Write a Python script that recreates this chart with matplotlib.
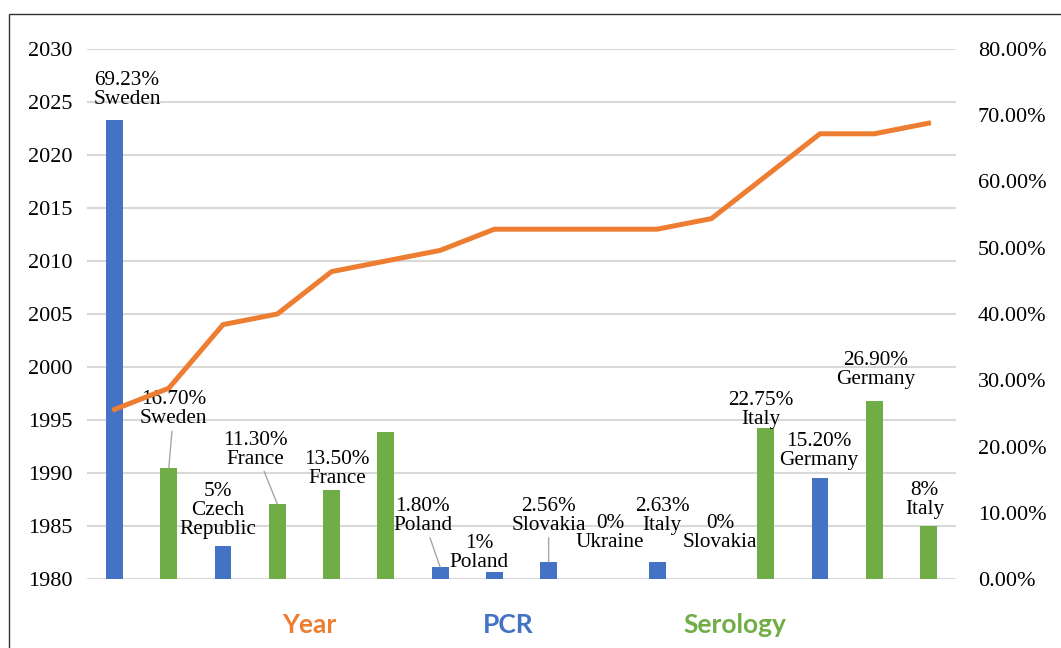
import matplotlib
matplotlib.use("Agg")
import matplotlib.pyplot as plt
from matplotlib.patches import Rectangle
from matplotlib.ticker import FuncFormatter

# --- data ---
YEARS = [1996, 1998, 2004, 2005, 2009, 2010, 2011, 2013,
         2013, 2013, 2013, 2014, 2018, 2022, 2022, 2023]
PREVALENCE = [69.23, 16.70, 5, 11.30, 13.50, 22.2, 1.80, 1,
              2.56, 0, 2.63, 0, 22.75, 15.20, 26.90, 8]
PCT_TEXT = ["69.23%", "16.70%", "5%", "11.30%", "13.50%", None, "1.80%", "1%",
            "2.56%", "0%", "2.63%", "0%", "22.75%", "15.20%", "26.90%", "8%"]
COUNTRIES = ["Sweden", "Sweden", "Czech\nRepublic", "France", "France", "", "Poland", "Poland",
             "Slovakia", "Ukraine", "Italy", "Slovakia", "Italy", "Germany", "Germany", "Italy"]
METHOD = ["PCR", "Serology", "PCR", "Serology", "Serology", "Serology", "PCR", "PCR",
          "PCR", "PCR", "PCR", "Serology", "Serology", "PCR", "Serology", "Serology"]

# label placement (pixel offsets from bar top) and leader-line flags
LABEL_OFFSETS = [(12.5, 30), (5, 59), (-5.5, 35), (-22, 54.6), (5.5, 20.6), (0, 0),
                 (-17.6, 51), (-15, 19.4), (0, 46), (7, 46), (5, 45.6), (8.5, 46),
                 (-4.7, 18.3), (-1, 27.3), (1, 30.8), (-4, 26)]
LEADER = [False, True, False, True, False, False, True, False,
          True, False, False, False, False, False, False, False]

ORANGE = "#ED7D31"
BLUE = "#4472C4"
GREEN = "#70AD47"
COLORS = {"PCR": BLUE, "Serology": GREEN}

SERIF = ["Liberation Serif", "DejaVu Serif"]

fig = plt.figure(figsize=(10.61, 6.48), dpi=100)
rect = [87.4 / 1061, 1 - 579 / 648, 868.2 / 1061, 530 / 648]

# year axis: left ticks + gridlines
ax = fig.add_axes(rect)
x = list(range(len(YEARS)))
ax.set_xlim(-0.5, len(YEARS) - 0.5)
ax.set_ylim(1980, 2030)
ax.set_yticks(range(1980, 2031, 5))
ax.grid(axis="y", color="#D9D9D9", linewidth=1.5)
ax.set_axisbelow(True)
ax.set_xticks([])
ax.tick_params(axis="y", length=0, pad=10.7, labelsize=16)
for lab in ax.get_yticklabels():
    lab.set_family(SERIF)
for s in ax.spines.values():
    s.set_visible(False)

# prevalence axis: bars + right ticks
axb = ax.twinx()
axb.set_ylim(0, 80)
axb.set_yticks(range(0, 81, 10))
axb.yaxis.set_major_formatter(FuncFormatter(lambda v, p: f"{v:.2f}%"))
axb.tick_params(axis="y", length=0, pad=16, labelsize=16)
for lab in axb.get_yticklabels():
    lab.set_family(SERIF)
for s in axb.spines.values():
    s.set_visible(False)
axb.bar(x, PREVALENCE, width=0.31, color=[COLORS[m] for m in METHOD], zorder=2)

for i, (val, pct, country) in enumerate(zip(PREVALENCE, PCT_TEXT, COUNTRIES)):
    if pct is None:
        continue
    dx, dy = LABEL_OFFSETS[i]
    arrow = dict(arrowstyle="-", color="#A6A6A6", lw=1, shrinkA=0, shrinkB=0) if LEADER[i] else None
    axb.annotate(pct + "\n" + country, xy=(i, val), xytext=(dx, dy),
                 textcoords="offset pixels", ha="center", va="center",
                 fontsize=15.3, family=SERIF, linespacing=1.0,
                 arrowprops=arrow, zorder=4)

# year line on top
axl = ax.twinx()
axl.set_ylim(1980, 2030)
axl.set_yticks([])
for s in axl.spines.values():
    s.set_visible(False)
axl.plot(x, YEARS, color=ORANGE, linewidth=3.6, solid_joinstyle="round", zorder=5)

# series names under the plot
for name, xc, col in [("Year", 309, ORANGE), ("PCR", 508, BLUE), ("Serology", 734.5, GREEN)]:
    fig.text(xc / 1061, 1 - 625 / 648, name, color=col, ha="center", va="center",
             fontsize=19, fontweight="bold", family=["Lato", "DejaVu Sans"])

# outer frame (cut off at right and bottom)
fig.add_artist(Rectangle((9.3 / 1061, -0.1), 1.2, 1 - 14 / 648 + 0.1, fill=False,
                         edgecolor="#333333", linewidth=1.0, transform=fig.transFigure))

fig.savefig("out.png", dpi=100)
